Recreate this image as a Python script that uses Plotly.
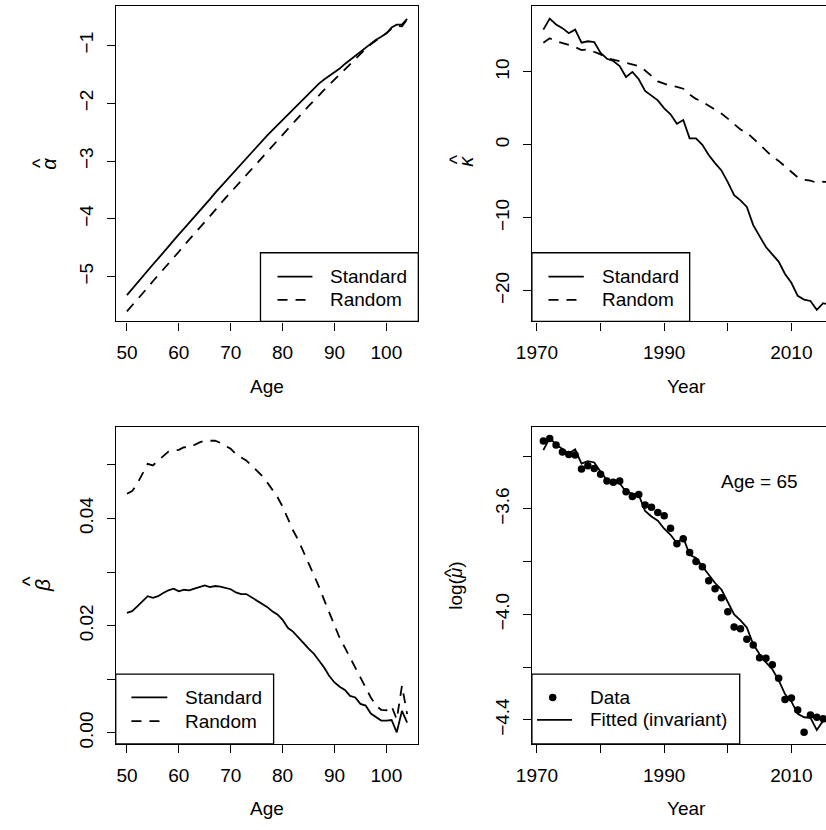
import plotly.graph_objects as go

# ---------------------------------------------------------------- data
ages = list(range(50, 105))
years = list(range(1971, 2017))

alpha_standard = [
    -5.32, -5.21, -5.11, -5.00, -4.90, -4.79, -4.69, -4.58, -4.48, -4.37,
    -4.27, -4.17, -4.07, -3.96, -3.86, -3.76, -3.66, -3.55, -3.45, -3.35,
    -3.25, -3.15, -3.05, -2.95, -2.85, -2.76, -2.66, -2.56, -2.47, -2.38,
    -2.29, -2.19, -2.10, -2.01, -1.92, -1.83, -1.74, -1.66, -1.59, -1.53,
    -1.47, -1.40, -1.32, -1.25, -1.18, -1.10, -1.04, -0.97, -0.90, -0.85,
    -0.79, -0.69, -0.64, -0.64, -0.54,
]
alpha_random = [
    -5.60, -5.50, -5.39, -5.29, -5.19, -5.08, -4.98, -4.88, -4.77, -4.67,
    -4.57, -4.46, -4.36, -4.26, -4.15, -4.05, -3.95, -3.85, -3.74, -3.64,
    -3.54, -3.44, -3.34, -3.24, -3.14, -3.04, -2.94, -2.84, -2.74, -2.64,
    -2.54, -2.44, -2.34, -2.25, -2.15, -2.05, -1.96, -1.86, -1.77, -1.68,
    -1.59, -1.50, -1.41, -1.32, -1.23, -1.14, -1.06, -0.98, -0.91, -0.85,
    -0.79, -0.71, -0.66, -0.67, -0.55,
]

kappa_standard = [
    15.8, 17.3, 16.5, 16.0, 15.3, 15.8, 14.0, 14.2, 14.1, 12.6,
    11.8, 11.5, 10.8, 9.3, 10.0, 9.0, 7.4, 6.7, 6.1, 5.0,
    4.2, 2.9, 3.4, 0.9, 0.9, 0.0, -1.4, -2.5, -3.5, -5.1,
    -6.9, -7.6, -8.5, -11.0, -12.5, -14.0, -15.0, -16.0, -17.7, -18.9,
    -20.7, -21.2, -21.4, -22.6, -21.7, -21.9,
]
kappa_random = [
    14.0, 14.6, 14.2, 14.0, 13.7, 13.4, 13.0, 13.1, 12.8, 12.4,
    11.9, 11.7, 11.5, 11.2, 11.0, 10.8, 10.2, 9.4, 8.7, 8.4,
    8.1, 7.95, 7.7, 6.9, 6.3, 5.9, 5.4, 4.9, 4.3, 3.6,
    2.8, 2.1, 1.7, 0.9, 0.0, -0.8, -1.6, -2.2, -2.95, -3.8,
    -4.45, -4.8, -4.9, -5.2, -5.05, -5.1,
]

beta_standard = [
    0.0224, 0.0227, 0.0236, 0.0245, 0.0255, 0.0252, 0.0255, 0.0261, 0.0266, 0.0269,
    0.0264, 0.0267, 0.0266, 0.0269, 0.0272, 0.0275, 0.0272, 0.0274, 0.0273, 0.0270,
    0.0268, 0.0262, 0.0259, 0.0259, 0.0253, 0.0248, 0.0242, 0.0235, 0.0227, 0.0221,
    0.0211, 0.0196, 0.0189, 0.0179, 0.0168, 0.0157, 0.0148, 0.0135, 0.0122, 0.0106,
    0.0094, 0.0086, 0.0080, 0.0069, 0.0066, 0.0054, 0.0051, 0.0036, 0.0029, 0.0023,
    0.0023, 0.0024, 0.0001, 0.0041, 0.0019,
]
beta_random = [
    0.0446, 0.0451, 0.0465, 0.0483, 0.0502, 0.0499, 0.0508, 0.0517, 0.0525, 0.0527,
    0.0528, 0.0533, 0.0532, 0.0537, 0.0542, 0.0545, 0.0545, 0.0545, 0.0541, 0.0536,
    0.0530, 0.0520, 0.0514, 0.0508, 0.0499, 0.0489, 0.0480, 0.0468, 0.0455, 0.0440,
    0.0422, 0.0400, 0.0378, 0.0360, 0.0339, 0.0316, 0.0295, 0.0273, 0.0248, 0.0224,
    0.0202, 0.0177, 0.0159, 0.0140, 0.0122, 0.0103, 0.0085, 0.0066, 0.0051, 0.0043,
    0.0042, 0.0050, 0.0025, 0.0088, 0.0035,
]

logmu_data = [
    -3.343, -3.333, -3.358, -3.384, -3.394, -3.396, -3.449, -3.436, -3.447, -3.469,
    -3.494, -3.499, -3.494, -3.535, -3.553, -3.545, -3.585, -3.594, -3.614, -3.626,
    -3.673, -3.732, -3.713, -3.765, -3.799, -3.819, -3.872, -3.903, -3.937, -3.990,
    -4.048, -4.054, -4.094, -4.116, -4.164, -4.166, -4.191, -4.242, -4.323, -4.317,
    -4.362, -4.447, -4.381, -4.390, -4.396, -4.400,
]
logmu_fitted = [
    -3.377, -3.331, -3.356, -3.374, -3.390, -3.374, -3.428, -3.419, -3.424, -3.459,
    -3.491, -3.497, -3.503, -3.535, -3.541, -3.547, -3.608, -3.629, -3.645, -3.675,
    -3.698, -3.730, -3.708, -3.774, -3.786, -3.818, -3.849, -3.881, -3.906, -3.956,
    -4.000, -4.023, -4.050, -4.113, -4.151, -4.182, -4.208, -4.249, -4.302, -4.330,
    -4.377, -4.390, -4.392, -4.438, -4.403, -4.400,
]

age_ticks = [50, 60, 70, 80, 90, 100]
age_labels = ["50", "60", "70", "80", "90", "100"]
year_ticks = [1970, 1980, 1990, 2000, 2010]
year_labels = ["1970", "", "1990", "", "2010"]
alpha_ticks = [-5, -4, -3, -2, -1]
alpha_labels = ["\u22125", "\u22124", "\u22123", "\u22122", "\u22121"]
kappa_ticks = [-20, -10, 0, 10]
kappa_labels = ["\u221220", "\u221210", "0", "10"]
beta_ticks = [0.0, 0.01, 0.02, 0.03, 0.04, 0.05]
beta_labels = ["0.00", "", "0.02", "", "0.04", ""]
logmu_ticks = [-4.4, -4.2, -4.0, -3.8, -3.6, -3.4]
logmu_labels = ["\u22124.4", "", "\u22124.0", "", "\u22123.6", ""]

series_names = ["Standard", "Random"]
fit_names = ["Data", "Fitted (invariant)"]

# ---------------------------------------------------------------- styling
W, H = 826, 830
FONT = "Liberation Sans, Arial, Helvetica, sans-serif"
FS = 19
INK = "black"
LW = 1.8
AXW = 1.3
DASH = "10px,8px"


def px(x):
    return x / W


def py(y):
    return 1 - y / H


# plot boxes (left, top, right, bottom) in pixels
BOX = {
    1: (101.7, 6.0, 410.3, 323.3),
    2: (526.1, 6.0, 841.3, 323.3),
    3: (101.7, 430.0, 410.3, 748.3),
    4: (526.1, 430.0, 841.3, 748.3),
}
AGE_RANGE = [47.84, 106.16]
YEAR_PX = 6.485  # pixels per year on the right-hand panels
YEAR_RANGE = [1969.2, 1969.2 + (W - BOX[2][0]) / YEAR_PX]

fig = go.Figure()


def line(x, y, i, dash=None):
    fig.add_trace(go.Scatter(
        x=x, y=y, mode="lines", xaxis=f"x{i}", yaxis=f"y{i}", showlegend=False,
        line=dict(color=INK, width=LW, dash=dash), hoverinfo="skip",
    ))


line(ages, alpha_standard, 1)
line(ages, alpha_random, 1, DASH)
line(years, kappa_standard, 2)
line(years, kappa_random, 2, DASH)
line(ages, beta_standard, 3)
line(ages, beta_random, 3, DASH)
fig.add_trace(go.Scatter(
    x=years, y=logmu_data, mode="markers", xaxis="x4", yaxis="y4", showlegend=False,
    marker=dict(color=INK, size=7.5, line=dict(width=0)), hoverinfo="skip",
))
line(years, logmu_fitted, 4)

axis_common = dict(
    showgrid=False, zeroline=False, showline=True, linecolor=INK, linewidth=AXW,
    ticks="outside", ticklen=8, tickwidth=AXW, tickcolor=INK,
    tickfont=dict(family=FONT, size=FS, color=INK), fixedrange=True,
)

xspec = {
    1: (AGE_RANGE, age_ticks, age_labels),
    2: (YEAR_RANGE, year_ticks, year_labels),
    3: (AGE_RANGE, age_ticks, age_labels),
    4: (YEAR_RANGE, year_ticks, year_labels),
}
yspec = {
    1: ([-5.774, -0.317], alpha_ticks, alpha_labels),
    2: ([-24.19, 19.04], kappa_ticks, kappa_labels),
    3: ([-0.00204, 0.05699], beta_ticks, beta_labels),
    4: ([-4.4906, -3.291], logmu_ticks, logmu_labels),
}

layout_axes = {}
for i in range(1, 5):
    l, t, r, b = BOX[i]
    xr, xt, xl = xspec[i]
    yr, yt, yl = yspec[i]
    right_side = i in (2, 4)
    layout_axes[f"xaxis{i}"] = dict(
        axis_common, domain=[px(l), 1.0 if right_side else px(r)], range=xr,
        tickvals=xt, ticktext=xl, anchor=f"y{i}", mirror=True, ticklabelstandoff=6,
    )
    layout_axes[f"yaxis{i}"] = dict(
        axis_common, domain=[py(b), py(t)], range=yr, tickvals=yt, ticktext=yl,
        anchor=f"x{i}", mirror=not right_side, tickangle=-90, ticklabelstandoff=6,
    )

fig.update_layout(
    width=W, height=H, margin=dict(l=0, r=0, t=0, b=0),
    paper_bgcolor="white", plot_bgcolor="white", showlegend=False,
    font=dict(family=FONT, size=FS, color=INK),
    **layout_axes,
)

shapes = []
annotations = []


def text(x, y, s, anchor="left", angle=0, size=FS):
    annotations.append(dict(
        x=px(x), y=py(y), xref="paper", yref="paper", text=s, showarrow=False,
        xanchor=anchor, yanchor="middle", textangle=angle,
        font=dict(family=FONT, size=size, color=INK),
    ))


def hat_label(x, y, s, hat_x, hat_y, size=FS):
    """Rotated y-axis label with a circumflex drawn above the symbol."""
    text(x, y, s, "center", -90, size)
    text(hat_x, hat_y, "^", "center", -90, size)


def legend_box(l, t, r, b):
    shapes.append(dict(type="rect", xref="paper", yref="paper",
                       x0=px(l), x1=px(r), y0=py(b), y1=py(t),
                       line=dict(color=INK, width=AXW), fillcolor="white", layer="above"))


def legend_line(x0, x1, y, dash=None):
    shapes.append(dict(type="line", xref="paper", yref="paper",
                       x0=px(x0), x1=px(x1), y0=py(y), y1=py(y),
                       line=dict(color=INK, width=LW, dash=dash), layer="above"))


def legend_dot(x, y, r=3.8):
    shapes.append(dict(type="circle", xref="paper", yref="paper",
                       x0=px(x - r), x1=px(x + r), y0=py(y + r), y1=py(y - r),
                       line=dict(color=INK, width=0), fillcolor=INK, layer="above"))


# legends (R style, boxed)
for (l, t, r, b), (s0, s1, tx), rows in [
    ((249.3, 254.3, 410.3, 323.3), (266.7, 302.3, 319.3), (278.3, 301.7)),
    ((526.1, 254.3, 687.0, 323.3), (543.0, 579.0, 596.3), (278.3, 301.7)),
    ((101.7, 678.3, 262.7, 748.3), (117.7, 154.3, 171.7), (701.7, 725.4)),
]:
    legend_box(l, t, r, b)
    legend_line(s0, s1, rows[0])
    legend_line(s0, s1, rows[1], DASH)
    text(tx - 1, rows[0], series_names[0])
    text(tx - 1, rows[1], series_names[1])

legend_box(526.1, 678.3, 738.0, 748.3)
legend_dot(547.3, 701.7)
legend_line(531.3, 567.0, 724.3)
text(583.7, 701.7, fit_names[0])
text(583.7, 724.3, fit_names[1])

# axis titles
text((BOX[1][0] + BOX[1][2]) / 2, 389, "Age", "center")
text((BOX[2][0] + BOX[2][2]) / 2, 389, "Year", "center")
text((BOX[3][0] + BOX[3][2]) / 2, 813, "Age", "center")
text((BOX[4][0] + BOX[4][2]) / 2, 813, "Year", "center")
hat_label(33, 164.5, "<i>\u03b1</i>", 24, 164.5, 20)
hat_label(458, 162.5, "<i>\u03ba</i>", 449.5, 160.5, 20)
hat_label(27, 589, "<i>\u03b2</i>", 14.5, 584.5, 21)
hat_label(448, 589, "log(<i>\u03bc</i>)", 443, 576.5, 19)

# panel note
annotations.append(dict(
    x=2005, y=-3.495, xref="x4", yref="y4", text="Age = 65", showarrow=False,
    xanchor="center", yanchor="middle", font=dict(family=FONT, size=FS, color=INK),
))

fig.update_layout(shapes=shapes, annotations=annotations)
fig.write_html("out.html")
